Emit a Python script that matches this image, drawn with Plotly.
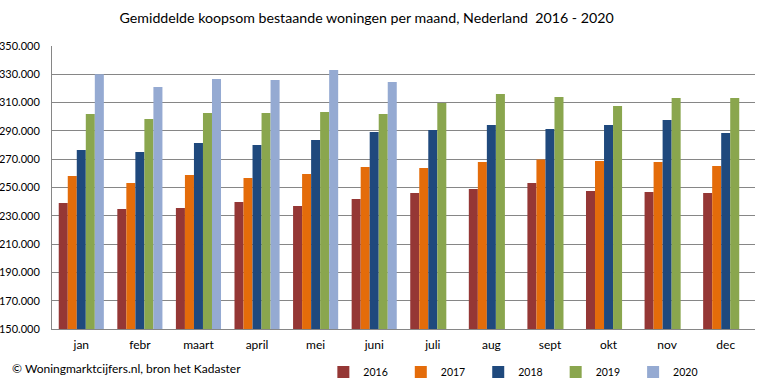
import plotly.graph_objects as go

months = ["jan", "febr", "maart", "april", "mei", "juni", "juli", "aug", "sept", "okt", "nov", "dec"]
years = ["2016", "2017", "2018", "2019", "2020"]
v2016 = [239000, 234800, 235500, 239800, 236900, 241900, 246100, 248900, 253200, 247500, 246800, 246100]
v2017 = [258100, 253200, 258800, 256700, 259500, 264500, 263800, 268000, 269700, 268700, 268000, 265200]
v2018 = [276500, 275100, 281400, 280000, 283600, 289200, 290600, 294200, 291300, 294200, 297700, 288500]
v2019 = [301900, 298400, 302600, 302600, 303400, 301900, 309700, 316100, 314000, 307600, 313300, 313300]
v2020 = [330000, 321000, 326700, 326000, 333000, 324600, None, None, None, None, None, None]
colors = ["#953735", "#E46C0A", "#1F497D", "#8AA64E", "#95AAD2"]
y_ticks = list(range(150000, 350001, 20000))
y_labels = [f"{v:,}".replace(",", ".") for v in y_ticks]

FONT = "Lato, Carlito, Calibri, sans-serif"

fig = go.Figure()
for name, vals, col in zip(years, [v2016, v2017, v2018, v2019, v2020], colors):
    fig.add_trace(go.Bar(x=months, y=vals, name=name + "\u00a0\u00a0\u00a0", marker=dict(color=col, line=dict(width=0))))

fig.update_layout(
    width=759, height=385,
    margin=dict(l=52, r=4, t=46, b=56, autoexpand=False),
    paper_bgcolor="white", plot_bgcolor="white",
    barmode="group", bargap=0.23, bargroupgap=0,
    font=dict(family=FONT, size=11, color="#000000"),
    title=dict(text="Gemiddelde koopsom bestaande woningen per maand, Nederland\u00a0\u00a02016 - 2020",
               x=0.483, xanchor="center", y=0.952, yanchor="middle",
               font=dict(family=FONT, size=14.2, color="#000000")),
    showlegend=True,
    legend=dict(orientation="h", x=0.386, xanchor="left", y=-0.152, yanchor="middle",
                font=dict(family=FONT, size=10.5, color="#000000"),
                itemwidth=30, bgcolor="rgba(0,0,0,0)", traceorder="normal"),
    annotations=[dict(text="© Woningmarktcijfers.nl, bron het Kadaster", xref="paper", yref="paper",
                      x=-0.06, y=-0.141, xanchor="left", yanchor="middle", showarrow=False,
                      font=dict(family=FONT, size=12, color="#000000"))],
)
fig.update_xaxes(showgrid=False, showline=True, linecolor="#868686", linewidth=1, automargin=False,
                 ticks="", tickfont=dict(family=FONT, size=12), ticklabelstandoff=5)
fig.update_yaxes(range=[150000, 350000], tickvals=y_ticks, ticktext=y_labels, automargin=False,
                 showgrid=True, gridcolor="#868686", gridwidth=1,
                 showline=True, linecolor="#868686", linewidth=1, zeroline=False,
                 ticks="", tickfont=dict(family=FONT, size=11), ticklabelstandoff=9)

fig.write_html("out.html", config={"displayModeBar": False},
               post_script="document.body.style.margin='0';")
